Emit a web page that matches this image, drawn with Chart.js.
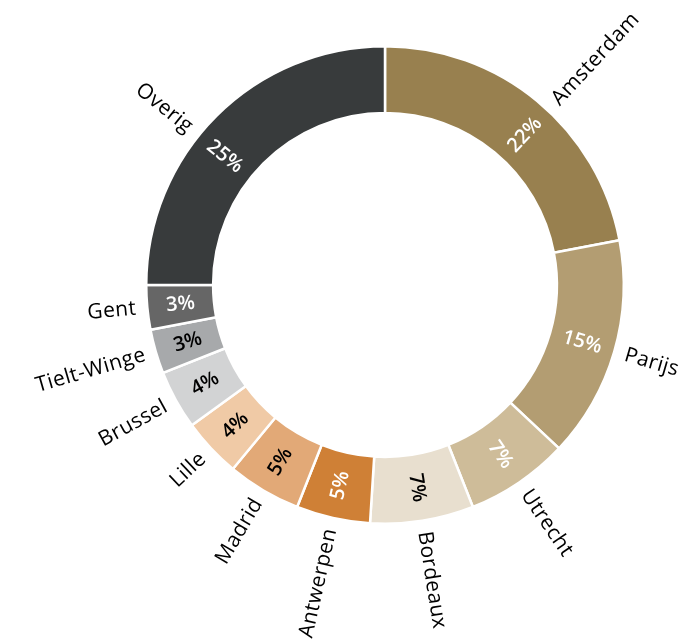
<!DOCTYPE html>
<html>
<head>
<meta charset="utf-8">
<script src="https://cdn.jsdelivr.net/npm/chart.js@4/dist/chart.umd.min.js"></script>
<style>
  html, body { margin: 0; padding: 0; background: #fff; }
  #wrap { width: 680px; height: 641px; }
</style>
</head>
<body>
<div id="wrap"><canvas id="ring" width="680" height="641"></canvas></div>
<script>
// Verdeling per locatie (procenten), met de klok mee vanaf boven
const cities = ['Amsterdam', 'Parijs', 'Utrecht', 'Bordeaux', 'Antwerpen', 'Madrid', 'Lille', 'Brussel', 'Tielt-Winge', 'Gent', 'Overig'];
const shares = [22, 15, 7, 7, 5, 5, 4, 4, 3, 3, 25];
const sliceColors = ['#98804f', '#b39d72', '#cebc99', '#e8dfcf', '#cf8036', '#e2a977', '#f0caa6', '#d2d3d4', '#a7a9ab', '#666666', '#383b3c'];
const pctColors = ['#fff', '#fff', '#fff', '#000', '#fff', '#000', '#000', '#000', '#000', '#fff', '#fff'];

// labels van de grote segmenten iets verschoven (graden)
const labelNudge = { Amsterdam: 3.4, Overig: -6.3 };

const NAME_FONT = '21px "Open Sans", sans-serif';
const PCT_FONT = '600 20px "Open Sans", sans-serif';

// tekst langs de straal draaien; links omdraaien zodat het niet op z'n kop staat
const radialLabels = {
  id: 'radialLabels',
  afterDatasetsDraw(chart) {
    const ctx = chart.ctx;
    const meta = chart.getDatasetMeta(0);
    meta.data.forEach((arc, i) => {
      const p = arc.getProps(['x', 'y', 'startAngle', 'endAngle', 'innerRadius', 'outerRadius'], true);
      const mid = (p.startAngle + p.endAngle) / 2 + (labelNudge[cities[i]] || 0) * Math.PI / 180;
      const right = Math.cos(mid) >= -1e-6;
      const rot = right ? mid : mid + Math.PI;

      ctx.save();
      ctx.textBaseline = 'middle';

      // percentage in de ring
      const rm = (p.innerRadius + p.outerRadius) / 2;
      ctx.save();
      ctx.font = PCT_FONT;
      ctx.translate(p.x + Math.cos(mid) * rm, p.y + Math.sin(mid) * rm);
      ctx.rotate(rot);
      ctx.textAlign = 'center';
      ctx.fillStyle = pctColors[i];
      ctx.fillText(shares[i] + '%', 0, 0);
      ctx.restore();

      // plaatsnaam buiten de ring
      const ro = p.outerRadius + 11;
      ctx.font = NAME_FONT;
      ctx.letterSpacing = '0.4px';
      ctx.translate(p.x + Math.cos(mid) * ro, p.y + Math.sin(mid) * ro);
      ctx.rotate(rot);
      ctx.textAlign = right ? 'left' : 'right';
      ctx.fillStyle = '#000';
      ctx.fillText(cities[i], 0, 0);
      ctx.restore();
    });
  }
};

new Chart(document.getElementById('ring').getContext('2d'), {
  type: 'doughnut',
  data: {
    labels: cities,
    datasets: [{
      data: shares,
      backgroundColor: sliceColors,
      borderColor: '#ffffff',
      borderWidth: 2.5
    }]
  },
  options: {
    responsive: false,
    animation: false,
    cutout: '72%',
    layout: { padding: { left: 145, top: 45, right: 55, bottom: 116 } },
    plugins: {
      legend: { display: false },
      tooltip: { enabled: false }
    }
  },
  plugins: [radialLabels]
});
</script>
</body>
</html>
